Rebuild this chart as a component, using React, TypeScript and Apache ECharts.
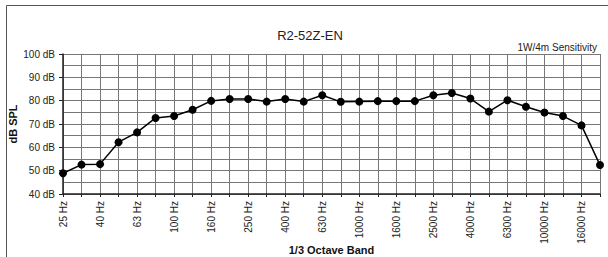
import React, { useEffect, useRef } from "react";
import * as echarts from "echarts";

const categories = [
  "25 Hz", "31.5 Hz", "40 Hz", "50 Hz", "63 Hz", "80 Hz", "100 Hz", "125 Hz",
  "160 Hz", "200 Hz", "250 Hz", "315 Hz", "400 Hz", "500 Hz", "630 Hz", "800 Hz",
  "1000 Hz", "1250 Hz", "1600 Hz", "2000 Hz", "2500 Hz", "3150 Hz", "4000 Hz",
  "5000 Hz", "6300 Hz", "8000 Hz", "10000 Hz", "12500 Hz", "16000 Hz", "20000 Hz",
];

const splValues = [
  48.9, 52.6, 52.8, 62.2, 66.4, 72.6, 73.4, 76.1,
  79.9, 80.7, 80.7, 79.6, 80.7, 79.6, 82.3, 79.5,
  79.6, 79.8, 79.8, 79.8, 82.3, 83.3, 80.9,
  75.3, 80.2, 77.4, 74.9, 73.4, 69.4, 52.4,
];

const titleText = "R2-52Z-EN";
const subtitleText = "1W/4m Sensitivity";
const yAxisName = "dB SPL";
const xAxisName = "1/3 Octave Band";

export default function App() {
  const ref = useRef<HTMLDivElement>(null);
  useEffect(() => {
    document.body.style.margin = "0";
    if (!ref.current) return;
    const chart = echarts.init(ref.current, null, { renderer: "svg" });
    const font = "'Liberation Sans', Arial, sans-serif";
    chart.setOption({
      animation: false,
      backgroundColor: "#ffffff",
      textStyle: { fontFamily: font },
      graphic: [
        {
          type: "rect",
          shape: { x: 6.5, y: 5.5, width: 640, height: 300 },
          style: { fill: "none", stroke: "#555", lineWidth: 1 },
          silent: true,
        },
        {
          type: "text",
          x: 310,
          y: 35,
          style: {
            text: titleText,
            fontSize: 13,
            fontFamily: font,
            fill: "#222",
            align: "center",
            verticalAlign: "middle",
          },
        },
        {
          type: "text",
          x: 597,
          y: 47,
          style: {
            text: subtitleText,
            fontSize: 10,
            fontFamily: font,
            fill: "#222",
            align: "right",
            verticalAlign: "middle",
          },
        },
      ],
      grid: {
        left: 63,
        right: 8,
        top: 54,
        bottom: 63,
        containLabel: false,
        outerBoundsMode: "none",
      },
      xAxis: {
        type: "category",
        data: categories,
        boundaryGap: false,
        name: xAxisName,
        nameLocation: "middle",
        nameGap: 50,
        nameMoveOverlap: false,
        nameTextStyle: { fontSize: 11, fontWeight: "bold", color: "#111", fontFamily: font },
        axisLine: { show: true, lineStyle: { color: "#222", width: 1.5 } },
        axisTick: { show: true, interval: 0, length: 3, lineStyle: { color: "#222" } },
        axisLabel: {
          interval: 1,
          rotate: 90,
          fontSize: 10,
          color: "#222",
          margin: 7,
          fontFamily: font,
        },
        splitLine: { show: true, interval: 0, lineStyle: { color: "#777", width: 1 } },
      },
      yAxis: {
        type: "value",
        min: 40,
        max: 100,
        interval: 10,
        name: yAxisName,
        nameLocation: "middle",
        nameGap: 45,
        nameMoveOverlap: false,
        nameTextStyle: { fontSize: 11, fontWeight: "bold", color: "#111", fontFamily: font },
        axisLine: { show: true, lineStyle: { color: "#222", width: 1.5 } },
        axisTick: { show: true, length: 4, lineStyle: { color: "#222" } },
        axisLabel: {
          formatter: (v: number) => `${v} dB`,
          fontSize: 10,
          color: "#222",
          margin: 8,
          fontFamily: font,
        },
        splitLine: { show: true, lineStyle: { color: "#777", width: 1 } },
        minorTick: { show: false, splitNumber: 2 },
        minorSplitLine: { show: true, lineStyle: { color: "#777", width: 1 } },
      },
      series: [
        {
          type: "line",
          data: splValues,
          symbol: "circle",
          symbolSize: 8,
          lineStyle: { color: "#000", width: 1.5 },
          itemStyle: { color: "#000" },
        },
      ],
    });
    return () => chart.dispose();
  }, []);
  return <div ref={ref} style={{ width: 608, height: 257 }} />;
}
